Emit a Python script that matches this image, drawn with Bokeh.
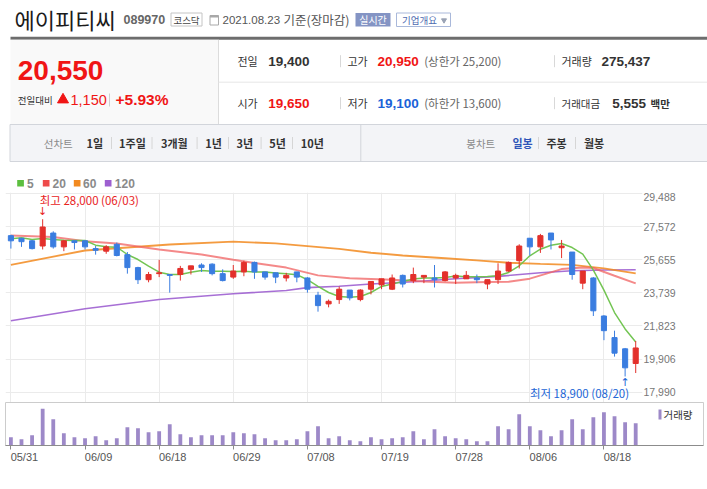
from bokeh.plotting import figure
from bokeh.layouts import column
from bokeh.models import Range1d, FixedTicker, NumeralTickFormatter, BoxAnnotation, LinearAxis
from bokeh.core.properties import value
from bokeh.embed import file_html
from bokeh.resources import INLINE

# ---------------- data ----------------
dates = ["05/31", "06/01", "06/02", "06/03", "06/04", "06/07", "06/08", "06/09", "06/10", "06/11",
         "06/14", "06/15", "06/16", "06/17", "06/18", "06/21", "06/22", "06/23", "06/24", "06/25",
         "06/28", "06/29", "06/30", "07/01", "07/02", "07/05", "07/06", "07/07", "07/08", "07/09",
         "07/12", "07/13", "07/14", "07/15", "07/16", "07/19", "07/20", "07/21", "07/22", "07/23",
         "07/26", "07/27", "07/28", "07/29", "07/30", "08/02", "08/03", "08/04", "08/05", "08/06",
         "08/09", "08/10", "08/11", "08/12", "08/13", "08/17", "08/18", "08/19", "08/20", "08/23"]
opens = [27050, 26900, 26750, 26450, 27200, 26400, 26750, 26750, 26300, 26150,
         26550, 25950, 25200, 24500, 24850, 24800, 24800, 25100, 25350, 25400,
         24850, 24650, 24950, 25500, 24950, 24900, 24600, 24950, 24600, 23600,
         23100, 23350, 23900, 23350, 23950, 24200, 23950, 24750, 24450, 24650,
         24600, 24450, 24600, 24550, 24600, 24250, 24500, 25000, 25600, 26900,
         26400, 27200, 26350, 26100, 24300, 24600, 22400, 21150, 20500, 19650]
highs = [27100, 26900, 26800, 28000, 27300, 26800, 26750, 26750, 26450, 26500,
         26650, 26100, 25250, 24950, 25650, 24800, 25300, 25300, 25450, 25450,
         25100, 25350, 25600, 25550, 24950, 24900, 24900, 24950, 24650, 23800,
         23350, 24100, 23900, 23950, 24400, 24550, 24800, 24800, 25200, 24750,
         25350, 25000, 24850, 25000, 24800, 24500, 25450, 25550, 26550, 26900,
         27150, 27200, 26800, 26100, 25000, 24650, 22450, 21550, 20550, 20950]
lows = [26300, 26400, 26250, 26250, 26300, 26150, 26250, 26250, 25950, 26000,
        25850, 24850, 24250, 24350, 24650, 23750, 24450, 24800, 24950, 24750,
        24400, 24550, 24700, 24550, 24500, 24300, 24400, 24350, 23750, 22650,
        22900, 23100, 23300, 23250, 23650, 23950, 23900, 24050, 24300, 24300,
        24050, 24400, 24250, 24550, 24300, 23950, 24250, 24950, 25150, 25900,
        26050, 26250, 25750, 24500, 23950, 22400, 21000, 20050, 18900, 19100]
closes = [26750, 26700, 26300, 27550, 26400, 26750, 26650, 26400, 26200, 26400,
          25900, 25200, 24500, 24800, 24900, 24750, 25150, 25300, 25200, 24850,
          24450, 25000, 25500, 24950, 24650, 24650, 24750, 24650, 23950, 23000,
          23250, 23950, 23450, 23900, 24400, 24550, 24600, 24250, 24800, 24750,
          24500, 24950, 24750, 24750, 24500, 24500, 25000, 25500, 26450, 26400,
          27050, 26800, 26450, 24800, 25000, 22700, 21550, 20250, 19400, 20550]
volumes = [103000, 78000, 127000, 452000, 325000, 152000, 103000, 90000, 115000, 66000,
           90000, 226000, 214000, 164000, 177000, 263000, 140000, 103000, 127000, 127000,
           127000, 164000, 152000, 140000, 90000, 66000, 66000, 78000, 177000, 238000,
           90000, 115000, 66000, 53000, 103000, 78000, 90000, 103000, 177000, 78000,
           201000, 115000, 90000, 78000, 53000, 53000, 238000, 201000, 386000, 238000,
           189000, 115000, 189000, 325000, 201000, 349000, 411000, 362000, 288000, 275437]

ma5 = [26864, 26922, 26826, 26884, 26826, 26787, 26768, 26768, 26498, 26401,
       26382, 25958, 25668, 25283, 24935, 24800, 24800, 24935, 25032, 24993,
       24993, 24970, 24984, 24945, 24945, 24887, 24848, 24790, 24498, 24108,
       23758, 23525, 23486, 23525, 23758, 24108, 24245, 24400, 24537, 24595,
       24595, 24634, 24710, 24671, 24671, 24691, 24729, 24921, 25306, 25882,
       26266, 26497, 26593, 26362, 25978, 25050, 23900, 22600, 21650, 20900]
ma20_idx = [0, 4, 7, 10, 14, 18, 21, 23, 26, 29, 32, 36, 39, 42, 45, 47, 49, 52, 54, 55, 57, 59]
ma20 = [27057, 26970, 26729, 26594, 26247, 25958, 25650, 25471, 25200, 24750, 24590,
        24498, 24400, 24330, 24364, 24383, 24560, 25114, 25210, 25180, 24729, 24287]
ma60_idx = [0, 7, 15, 21, 25, 28, 31, 34, 37, 41, 44, 47, 50, 53, 56, 59]
ma60 = [25363, 26190, 26538, 26700, 26600, 26444, 26288, 26060, 25901, 25740,
        25620, 25480, 25410, 25360, 25150, 24860]
ma120_idx = [0, 7, 14, 21, 26, 28, 31, 34, 38, 42, 46, 50, 53, 56, 59]
ma120 = [22122, 22816, 23355, 23684, 23875, 24040, 24120, 24250, 24380, 24556,
         24691, 24900, 25017, 25060, 25080]

price_ticks = [17990, 19906, 21823, 23739, 25655, 27572, 29488]
date_tick_idx = [0, 7, 14, 21, 28, 35, 42, 49, 56]

prev_close = 19400
upper_limit = 25200
lower_limit = 13600
amount_mil = 5555

# ---------------- styles ----------------
KR = "Noto Sans CJK KR"
NUM = "Liberation Sans"
RED = "#e3302b"
BLUE = "#3a7de0"
TXT_RED = "#f01515"
TXT_BLUE = "#1a62d8"
MA_COL = {"5": "#5cbf3f", "20": "#ee4a4a", "60": "#f28a1f", "120": "#9d5fd0"}
VOL_COL = "#9d89c8"

W = 707
# layout anchors (page pixels)
LEFT = 5
PX_PER_IDX = 10.59
X0_PAGE = 10.4
x_start = -(X0_PAGE - LEFT) / PX_PER_IDX
TOP_TICK_PY, BOT_TICK_PY = 193.0, 391.7
ppv = (BOT_TICK_PY - TOP_TICK_PY) / (price_ticks[-1] - price_ticks[0])


def price_at(py):
    return price_ticks[0] + (BOT_TICK_PY - py) / ppv


# ---------------- header ----------------
HDR_H = 192
hdr = figure(frame_width=W, frame_height=HDR_H, x_range=Range1d(0, W), y_range=Range1d(HDR_H, 0),
             x_axis_location=None, y_axis_location=None, toolbar_location=None,
             output_backend="svg", min_border=0, outline_line_color=None)
hdr.grid.visible = False


def T(x, y, s, size, color="#333", font=KR, bold=False, align="left"):
    hdr.text(x=[x], y=[y], text=[s], text_font=value(font), text_font_size=f"{size}px",
             text_color=color, text_font_style="bold" if bold else "normal",
             text_align=align, text_baseline="middle")


def box(l, r, t, b, fill=None, line=None, lw=1):
    hdr.quad(left=[l], right=[r], top=[t], bottom=[b], fill_color=fill,
             line_color=line, line_width=lw)


def seg(x0, y0, x1, y1, color, lw=1):
    hdr.segment(x0=[x0], y0=[y0], x1=[x1], y1=[y1], line_color=color, line_width=lw)


T(9, 18, "에이피티씨", 22, "#1b1b1b")
T(118, 19.3, "089970", 12.5, "#666", NUM, True)
box(165.5, 196.5, 12.5, 25.5, "white", "#c4c4c4")
T(181, 19, "코스닥", 9.5, "#444", align="center")
box(204.5, 213, 15, 24.5, "white", "#a8a8a8")
box(204.5, 213, 15, 17, "#a8a8a8", None)
T(217, 19.3, "2021.08.23", 11.5, "#555", NUM)
T(278, 19.3, "기준(장마감)", 12.5, "#555")
box(350, 385, 12.5, 26, "#8494c4", None)
T(367.5, 19.3, "실시간", 10, "white", align="center")
box(391, 445, 12.5, 26, "white", "#a9b8da")
T(396.5, 19.3, "기업개요", 9.5, "#4e6bb0")
hdr.scatter(x=[438.5], y=[19.8], marker="inverted_triangle", size=5, color="#9aa3b5")

box(5, 707, 36.3, 39.3, "#6d6d6d", None)
box(5, 213, 39.3, 124, "#f9f9f9", None)
seg(213, 39.3, 213, 124, "#dcdcdc")
seg(213, 81.7, 703.5, 81.7, "#e6e6e6")
seg(703.5, 39.3, 703.5, HDR_H, "#d0d0d0", 1.5)

last_close = closes[-1]
change = last_close - prev_close
pct = change / prev_close * 100
T(12.3, 70, f"{last_close:,}", 28, TXT_RED, NUM, True)
T(12.3, 99.3, "전일대비", 9.5, "#333")
hdr.scatter(x=[57.5], y=[99.2], marker="triangle", size=11, color=TXT_RED)
T(65, 99.3, f"{change:,}", 14.5, TXT_RED, NUM)
seg(104, 93, 104, 106, "#cfcfcf")
T(110, 99.3, f"+{pct:.2f}%", 15.5, TXT_RED, NUM, True)

r1, r2 = 60.7, 102.7
T(232, r1, "전일", 11)
T(262.7, r1, f"{prev_close:,}", 13.5, "#333", NUM, True)
seg(335, r1 - 6, 335, r1 + 6, "#d8d8d8")
T(342, r1, "고가", 11)
T(372, r1, f"{highs[-1]:,}", 13.5, TXT_RED, NUM, True)
T(418.7, r1, f"(상한가 {upper_limit:,})", 11.5, "#666")
seg(549, r1 - 6, 549, r1 + 6, "#d8d8d8")
T(556, r1, "거래량", 11)
T(596, r1, f"{volumes[-1]:,}", 13.5, "#333", NUM, True)

T(232, r2, "시가", 11)
T(262.7, r2, f"{opens[-1]:,}", 13.5, TXT_RED, NUM, True)
seg(335, r2 - 6, 335, r2 + 6, "#d8d8d8")
T(342, r2, "저가", 11)
T(372, r2, f"{lows[-1]:,}", 13.5, TXT_BLUE, NUM, True)
T(418.7, r2, f"(하한가 {lower_limit:,})", 11.5, "#666")
seg(549, r2 - 6, 549, r2 + 6, "#d8d8d8")
T(556, r2, "거래대금", 10.5)
T(606.7, r2, f"{amount_mil:,}", 13.5, "#333", NUM, True)
T(645, r2, "백만", 10.5, "#333", bold=True)

# tab bar
box(4.5, 703.5, 124, 161, "#f3f4f7", "#d2d5db")
seg(355.3, 124, 355.3, 161, "#d2d5db")
ty = 142.5
T(38.3, ty, "선차트", 10.5, "#8a8a8a")
for xx, s in [(81, "1일"), (113.6, "1주일"), (155.5, "3개월"), (199.7, "1년"),
              (231, "3년"), (263.7, "5년"), (295.3, "10년")]:
    T(xx, ty, s, 11, "#333", bold=True)
for xx in [106, 146.5, 191.6, 223, 255.6, 287, 533, 570]:
    seg(xx, ty - 6, xx, ty + 6, "#d6d6d6")
T(460.8, ty, "봉차트", 10.5, "#8a8a8a")
T(507, ty, "일봉", 11, "#2f55b8", bold=True)
T(541, ty, "주봉", 11, "#333", bold=True)
T(578.5, ty, "월봉", 11, "#333", bold=True)

# MA legend
for (x0, tx, key) in [(11.7, 21.5, "5"), (37.3, 47, "20"), (68.3, 77.5, "60"), (99.3, 109.3, "120")]:
    box(x0, x0 + 6.7, 179.5, 186, MA_COL[key], None)
    T(tx, 182.8, key, 12, "#8a8a8a", NUM, True)

# ---------------- price pane ----------------
P_TOP, P_BOT, P_RIGHT = 192, 402, 642
x_end_p = x_start + (P_RIGHT - LEFT) / PX_PER_IDX
p = figure(frame_width=P_RIGHT - LEFT, frame_height=P_BOT - P_TOP,
           x_range=Range1d(x_start, x_end_p),
           y_range=Range1d(price_at(P_BOT), price_at(P_TOP)),
           y_axis_location="right", x_axis_location=None, toolbar_location=None,
           output_backend="svg", min_border_left=LEFT, min_border_right=W - P_RIGHT,
           min_border_top=0, min_border_bottom=0, outline_line_color=None)
p.ygrid.ticker = FixedTicker(ticks=price_ticks)
p.xgrid.ticker = FixedTicker(ticks=date_tick_idx)
p.grid.grid_line_color = "#ebebeb"
p.yaxis.ticker = FixedTicker(ticks=price_ticks)
p.yaxis.formatter = NumeralTickFormatter(format="0,0")
p.yaxis.axis_line_color = None
p.yaxis.major_tick_line_color = None
p.yaxis.minor_tick_line_color = None
p.yaxis.major_tick_out = 0
p.yaxis.major_tick_in = 0
p.yaxis.major_label_standoff = 1
p.yaxis.major_label_text_font = NUM
p.yaxis.major_label_text_font_size = "10.5px"
p.yaxis.major_label_text_color = "#777777"

idx = list(range(len(closes)))
p.line(ma120_idx, ma120, line_color=MA_COL["120"], line_width=1.6, line_alpha=0.9)
p.line(ma60_idx, ma60, line_color=MA_COL["60"], line_width=1.8, line_alpha=0.85)
p.line(ma20_idx, ma20, line_color="#f06262", line_width=2, line_alpha=0.75)
p.line(idx, ma5, line_color="#6cc24a", line_width=1.5, line_alpha=0.95)

cols = [RED if c >= o else BLUE for o, c in zip(opens, closes)]
p.segment(x0=idx, y0=highs, x1=idx, y1=lows, line_color=cols, line_width=1)
p.vbar(x=idx, width=0.48, top=[max(o, c) for o, c in zip(opens, closes)],
       bottom=[min(o, c) for o, c in zip(opens, closes)], fill_color=cols, line_color=cols,
       line_width=1)

hi_i = highs.index(max(highs))
lo_i = lows.index(min(lows))
p.text(x=[hi_i - 3 / PX_PER_IDX], y=[highs[hi_i] + 19 / ppv],
       text=[f"최고 {highs[hi_i]:,} ({dates[hi_i]})"], text_font=value(KR),
       text_font_size="11.5px", text_color="#e8231d", text_align="left", text_baseline="middle")
p.text(x=[hi_i], y=[highs[hi_i] + 8 / ppv], text=["↓"], text_font=value("DejaVu Sans"),
       text_font_size="11px", text_color="#e8231d", text_align="center", text_baseline="middle")
p.text(x=[lo_i + 4 / PX_PER_IDX], y=[lows[lo_i] - 17 / ppv],
       text=[f"최저 {lows[lo_i]:,} ({dates[lo_i]})"], text_font=value(KR),
       text_font_size="11.5px", text_color="#2266d6", text_align="right", text_baseline="middle")
p.text(x=[lo_i], y=[lows[lo_i] - 6 / ppv], text=["↑"], text_font=value("DejaVu Sans"),
       text_font_size="11px", text_color="#2266d6", text_align="center", text_baseline="middle")
p.add_layout(BoxAnnotation(left=702.5, right=704, top=0, bottom=P_BOT - P_TOP, left_units="canvas",
                           right_units="canvas", top_units="canvas", bottom_units="canvas",
                           fill_color="#d0d0d0", fill_alpha=1, line_color=None))

# ---------------- volume pane ----------------
V_TOP, V_BASE, V_BOT, V_RIGHT = 402, 445, 484, 703
VOL_FRAME_H = V_BASE - V_TOP
VOL_PER_PX = 12333
vol_top = VOL_FRAME_H * VOL_PER_PX
x_end_v = x_start + (V_RIGHT - LEFT) / PX_PER_IDX
v = figure(frame_width=V_RIGHT - LEFT, frame_height=VOL_FRAME_H,
           x_range=Range1d(x_start, x_end_v), y_range=Range1d(0, vol_top),
           y_axis_location=None, toolbar_location=None, output_backend="svg",
           min_border_left=LEFT, min_border_right=W - V_RIGHT, min_border_top=0,
           min_border_bottom=V_BOT - V_BASE, outline_line_color="#cccccc")
v.grid.visible = False
v.vbar(x=idx, top=volumes, width=0.36, fill_color=VOL_COL, line_color=None)
# tick marks + baseline axis (its own labels not drawn)
v.xaxis.ticker = FixedTicker(ticks=date_tick_idx)
v.xaxis.major_label_text_color = None
v.xaxis.major_label_standoff = 0
v.xaxis.axis_line_color = "#8c8c8c"
v.xaxis.major_tick_line_color = "#8c8c8c"
v.xaxis.major_tick_out = 4
v.xaxis.major_tick_in = 0
v.xaxis.minor_tick_line_color = None
# date labels, left-aligned at their tick (label axis on a shifted range)
LBL_SHIFT = 13.5 / PX_PER_IDX
v.extra_x_ranges = {"lbl": Range1d(x_start - LBL_SHIFT, x_end_v - LBL_SHIFT)}
lbl_axis = LinearAxis(x_range_name="lbl", ticker=FixedTicker(ticks=date_tick_idx),
                      major_label_overrides={i: dates[i] for i in date_tick_idx},
                      axis_line_color=None, major_tick_line_color=None,
                      minor_tick_line_color=None, major_tick_out=0, major_tick_in=0,
                      major_label_standoff=1, major_label_text_font=NUM,
                      major_label_text_font_size="11px", major_label_text_color="#555555")
v.add_layout(lbl_axis, "below")


def xv(px):
    return x_start + (px - LEFT) / PX_PER_IDX


def yv(py):
    return vol_top * (V_BASE - py) / VOL_FRAME_H


v.quad(left=[xv(658)], right=[xv(661)], top=[yv(409)], bottom=[yv(419)],
       fill_color=VOL_COL, line_color=None)
v.text(x=[xv(663)], y=[yv(414)], text=["거래량"], text_font=value(KR), text_font_size="10.5px",
       text_color="#333333", text_align="left", text_baseline="middle")
v.add_layout(BoxAnnotation(left=702.5, right=704, top=0, bottom=V_BOT - V_TOP, left_units="canvas",
                           right_units="canvas", top_units="canvas", bottom_units="canvas",
                           fill_color="#d0d0d0", fill_alpha=1, line_color=None))

# ---------------- bottom strip ----------------
b = figure(frame_width=W, frame_height=489 - V_BOT, x_range=Range1d(0, W),
           y_range=Range1d(489, V_BOT),
           x_axis_location=None, y_axis_location=None, toolbar_location=None,
           output_backend="svg", min_border=0, outline_line_color=None)
b.grid.visible = False
b.quad(left=[5], right=[703.5], top=[484.2], bottom=[486.5], fill_color="#5a5a5a", line_color=None)
b.quad(left=[336], right=[375], top=[486.5], bottom=[490], fill_color="white", line_color="#aaaaaa")

layout = column(hdr, p, v, b, spacing=0)
open("out.html", "w").write(file_html(layout, INLINE))
